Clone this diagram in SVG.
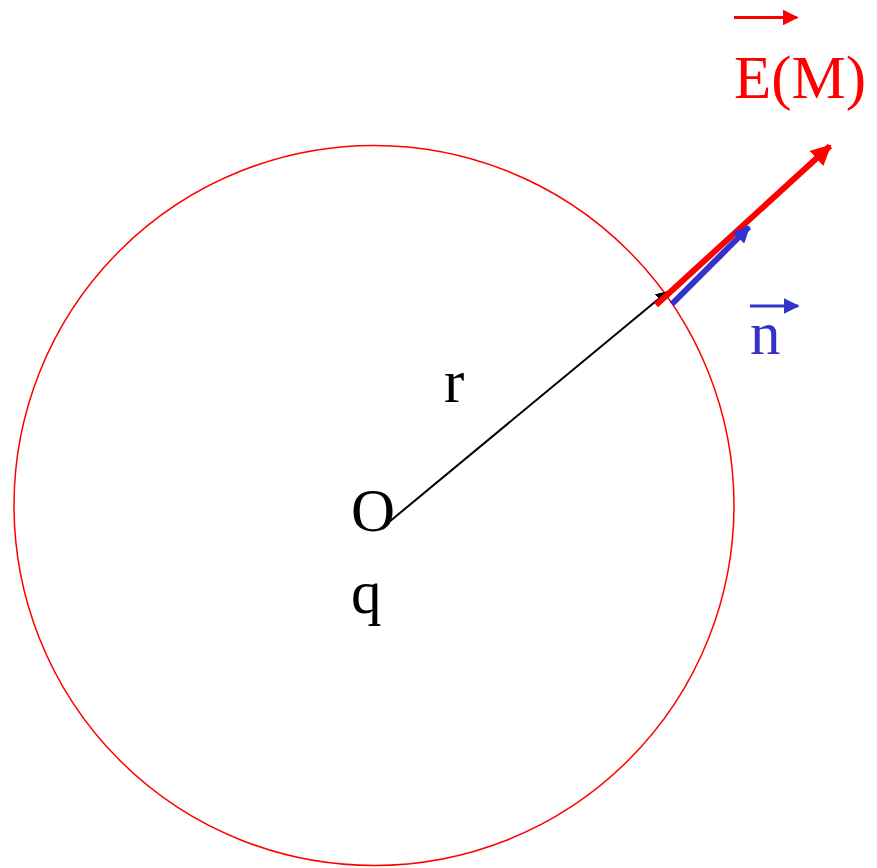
<svg xmlns="http://www.w3.org/2000/svg" width="877" height="868" viewBox="0 0 877 868">
<style>
.t{font-family:"Liberation Serif","Times New Roman",serif;font-size:61px}
</style>
<defs>
<marker id="ar" viewBox="0 0 10 10" refX="9" refY="5" markerWidth="3.4" markerHeight="3.4" markerUnits="strokeWidth" orient="auto"><path d="M0,0L10,5L0,10z" fill="#FF0000"/></marker>
<marker id="ab" viewBox="0 0 10 10" refX="9" refY="5" markerWidth="2.8" markerHeight="2.8" markerUnits="strokeWidth" orient="auto"><path d="M0,0L10,5L0,10z" fill="#3333CC"/></marker>
<marker id="ak" viewBox="0 0 10 10" refX="9" refY="5" markerWidth="6" markerHeight="6" markerUnits="strokeWidth" orient="auto"><path d="M0,0L10,5L0,10z" fill="#000"/></marker>
<marker id="ar2" viewBox="0 0 10 10" refX="9" refY="5" markerWidth="5.3" markerHeight="5.3" markerUnits="strokeWidth" orient="auto"><path d="M0,0L10,5L0,10z" fill="#FF0000"/></marker>
<marker id="ab2" viewBox="0 0 10 10" refX="9" refY="5" markerWidth="5.3" markerHeight="5.3" markerUnits="strokeWidth" orient="auto"><path d="M0,0L10,5L0,10z" fill="#3333CC"/></marker>
</defs>
<g id="sphere"><circle cx="374" cy="505.5" r="360" fill="none" stroke="#FF0000" stroke-width="1.5"/></g>
<g id="connectors">
<line x1="383" y1="527" x2="667" y2="292" stroke="#000" stroke-width="2" marker-end="url(#ak)"/>
<line x1="656" y1="305" x2="830" y2="146" stroke="#FF0000" stroke-width="6" marker-end="url(#ar)"/>
<line x1="672" y1="304" x2="749" y2="227" stroke="#3333CC" stroke-width="6" marker-end="url(#ab)"/>
</g>
<g id="labelE">
<line x1="734" y1="17.5" x2="797" y2="17.5" stroke="#FF0000" stroke-width="3" marker-end="url(#ar2)"/>
<text class="t" x="734" y="98" fill="#FF0000">E(M)</text>
</g>
<g id="labeln">
<line x1="750" y1="306" x2="798" y2="306" stroke="#3333CC" stroke-width="3" marker-end="url(#ab2)"/>
<text class="t" x="750" y="354" fill="#3333CC">n</text>
</g>
<g id="labelO"><text class="t" x="351" y="531">O</text></g>
<g id="labelq"><text class="t" x="351" y="613">q</text></g>
<g id="labelr"><text class="t" x="444" y="402">r</text></g>
</svg>
